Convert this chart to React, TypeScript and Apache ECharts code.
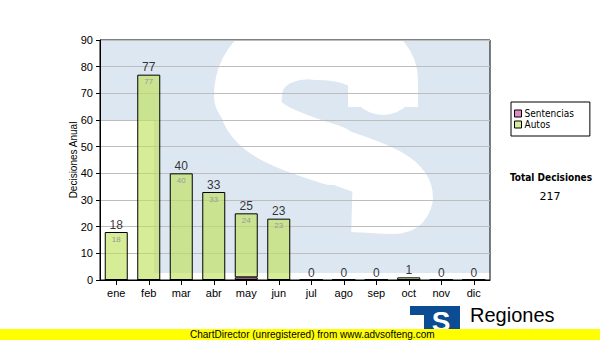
import React, { useEffect, useRef } from "react";
import * as echarts from "echarts";

const months = ["ene", "feb", "mar", "abr", "may", "jun", "jul", "ago", "sep", "oct", "nov", "dic"];
const sentencias = [0, 0, 0, 0, 1, 0, 0, 0, 0, 0, 0, 0];
const autos = [18, 77, 40, 33, 24, 23, 0, 0, 0, 1, 0, 0];
const yTicks = { min: 0, max: 90, interval: 10 };
const totalTitle = "Total Decisiones";

export default function App() {
  const ref = useRef<HTMLDivElement>(null);

  useEffect(() => {
    document.body.style.margin = "0";
    const chart = echarts.init(ref.current!, null, { renderer: "svg" });
    const totals = months.map((_, i) => sentencias[i] + autos[i]);
    const grandTotal = totals.reduce((a, b) => a + b, 0);
    const arial = "'Liberation Sans', Arial, sans-serif";
    const dv = "'DejaVu Sans Condensed', 'DejaVu Sans', sans-serif";

    const sStyle = (cap: string, w: number) => ({ fill: "none", stroke: "#ffffff", lineWidth: w, lineCap: cap });
    const sSegs = [
      { type: "line", z: -10, shape: { x1: 383, y1: 107, x2: 383, y2: 80 }, style: sStyle("butt", 70) },
      { type: "bezierCurve", z: -10, shape: { x1: 383, y1: 80, cpx1: 383, cpy1: 57, cpx2: 352, cpy2: 45, x2: 315, y2: 45 }, style: sStyle("round", 70) },
      { type: "bezierCurve", z: -10, shape: { x1: 315, y1: 45, cpx1: 276, cpy1: 45, cpx2: 248, cpy2: 62, x2: 248, y2: 96 }, style: sStyle("round", 68) },
      { type: "bezierCurve", z: -10, shape: { x1: 248, y1: 96, cpx1: 248, cpy1: 130, cpx2: 290, cpy2: 141, x2: 332, y2: 155 }, style: sStyle("round", 60) },
      { type: "bezierCurve", z: -10, shape: { x1: 332, y1: 155, cpx1: 385, cpy1: 172, cpx2: 405, cpy2: 182, x2: 405, y2: 198 }, style: sStyle("round", 56) },
      { type: "bezierCurve", z: -10, shape: { x1: 405, y1: 198, cpx1: 405, cpy1: 212, cpx2: 388, cpy2: 206, x2: 352, y2: 205 }, style: sStyle("butt", 54) },
    ];

    chart.setOption({
      animation: false,
      backgroundColor: "#ffffff",
      grid: {
        left: 100,
        top: 40,
        width: 390,
        height: 240,
        show: true,
        borderColor: "#000",
        borderWidth: 1,
        backgroundColor: "transparent",
      },
      legend: {
        orient: "vertical",
        left: 511,
        top: 102,
        padding: [6, 16, 6, 3],
        itemWidth: 7,
        itemHeight: 7,
        itemGap: 0,
        icon: "rect",
        borderColor: "#000",
        borderWidth: 1,
        itemStyle: { borderColor: "#000", borderWidth: 1 },
        textStyle: { fontFamily: dv, fontSize: 10, color: "#000", lineHeight: 11, padding: [0, 0, 0, -2] },
        data: ["Sentencias", "Autos"],
      },
      xAxis: {
        type: "category",
        data: months,
        axisLine: { lineStyle: { color: "#000", width: 1 } },
        axisTick: { show: true, alignWithLabel: true, length: 5, lineStyle: { color: "#000" } },
        axisLabel: { color: "#000", fontSize: 11, fontFamily: arial, margin: 7 },
        splitLine: { show: false },
      },
      yAxis: {
        type: "value",
        min: yTicks.min,
        max: yTicks.max,
        interval: yTicks.interval,
        name: "Decisiones Anual",
        nameLocation: "middle",
        nameRotate: 90,
        nameGap: 22,
        nameMoveOverlap: false,
        nameTextStyle: { color: "#000", fontSize: 10, fontFamily: arial },
        axisLine: { show: true, lineStyle: { color: "#000", width: 1 } },
        axisTick: { show: true, length: 4, lineStyle: { color: "#000" } },
        axisLabel: { color: "#000", fontSize: 11, fontFamily: arial, margin: 7 },
        splitLine: { show: true, lineStyle: { color: "#bdbdbd", width: 1 } },
      },
      graphic: [
        { type: "rect", z: -20, shape: { x: 100, y: 40, width: 390, height: 80 }, style: { fill: "#dde7f1" } },
        { type: "rect", z: -20, shape: { x: 154, y: 40, width: 336, height: 233 }, style: { fill: "#dde7f1" } },
        ...sSegs,
        {
          type: "text",
          x: 551,
          y: 177,
          style: { text: totalTitle, fontWeight: "bold", fontSize: 10, fontFamily: dv, fill: "#000", align: "center", verticalAlign: "middle" },
        },
        {
          type: "text",
          x: 550,
          y: 196,
          style: { text: String(grandTotal), fontSize: 11, fontFamily: "'DejaVu Sans', sans-serif", fill: "#000", align: "center", verticalAlign: "middle" },
        },
        { type: "rect", z: 50, shape: { x: 410, y: 306, width: 50, height: 9 }, style: { fill: "#0b4c92" } },
        { type: "rect", z: 50, shape: { x: 424, y: 306, width: 36, height: 23 }, style: { fill: "#0b4c92" } },
        {
          type: "text",
          z: 51,
          x: 441,
          y: 321,
          style: { text: "S", fontWeight: "bold", fontSize: 28, fontFamily: arial, fill: "#ffffff", align: "center", verticalAlign: "middle" },
        },
        {
          type: "text",
          z: 51,
          x: 470,
          y: 315,
          style: { text: "Regiones", fontSize: 20, fontFamily: arial, fill: "#000", align: "left", verticalAlign: "middle" },
        },
        {
          type: "text",
          z: 51,
          x: 467,
          y: 328,
          style: { text: "Tribunal Supremo de Justicia", fontSize: 9, fontFamily: arial, fill: "#000", align: "left", verticalAlign: "top" },
        },
        { type: "rect", z: 100, shape: { x: 0, y: 329, width: 600, height: 11 }, style: { fill: "#ffff00" } },
        {
          type: "text",
          z: 101,
          x: 190,
          y: 334.5,
          style: { text: "ChartDirector (unregistered) from www.advsofteng.com", fontSize: 10, fontFamily: arial, fill: "#000", align: "left", verticalAlign: "middle" },
        },
      ],
      series: [
        {
          name: "Sentencias",
          type: "bar",
          stack: "total",
          barWidth: 23,
          data: sentencias,
          itemStyle: { color: "#e08ac8", borderColor: "#000", borderWidth: 1 },
        },
        {
          name: "Autos",
          type: "bar",
          stack: "total",
          barWidth: 23,
          data: autos.map((v) => ({ value: v, label: { show: v >= 5 } })),
          itemStyle: { color: "rgba(190,225,88,0.63)", borderColor: "#000", borderWidth: 1 },
          label: {
            show: true,
            position: "insideTop",
            distance: 3,
            color: "#999",
            fontSize: 8,
            fontFamily: arial,
          },
        },
        {
          name: "Total",
          type: "scatter",
          symbolSize: 1,
          itemStyle: { color: "rgba(0,0,0,0)" },
          data: totals,
          label: { show: true, position: "top", distance: 1, color: "#000", fontSize: 12, fontFamily: arial },
          z: 5,
        },
      ],
    });
    return () => chart.dispose();
  }, []);

  return <div ref={ref} style={{ position: "fixed", left: 0, top: 0, width: 600, height: 340 }} />;
}
